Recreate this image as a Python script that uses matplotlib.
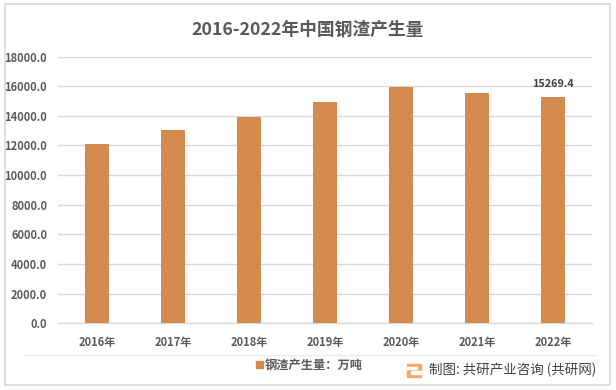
import matplotlib
matplotlib.use('Agg')
import matplotlib.pyplot as plt
from matplotlib.patches import Rectangle

plt.rcParams['font.family'] = ['Noto Sans CJK SC', 'DejaVu Sans']

years = ['2016年', '2017年', '2018年', '2019年', '2020年', '2021年', '2022年']
output = [12087, 13030, 13906, 14918, 15930, 15526, 15269.4]
y_ticks = [0, 2000, 4000, 6000, 8000, 10000, 12000, 14000, 16000, 18000]

W, H = 616, 390
fig = plt.figure(figsize=(W / 100, H / 100), dpi=100, facecolor='white')
ax = fig.add_axes([58.3 / W, 1 - 323.3 / H, 533.5 / W, 266.8 / H])

grey = '#595959'
bar_color = '#D28B4D'

ax.bar(range(len(years)), output, width=0.316, color=bar_color, zorder=3)
ax.set_xlim(-0.509, 6.51)
ax.set_ylim(0, 18000)
ax.set_xticks(range(len(years)))
ax.set_xticklabels(years, fontsize=8, fontweight='bold', color=grey)
ax.set_yticks(y_ticks)
ax.set_yticklabels([f'{v:.1f}' for v in y_ticks], fontsize=8, fontweight='bold', color=grey,
                   va='center_baseline')
ax.tick_params(length=0)
ax.tick_params(axis='x', pad=9)
ax.tick_params(axis='y', pad=8)
ax.grid(axis='y', color='#D9D9D9', linewidth=1, zorder=0)
for s in ['top', 'right', 'left']:
    ax.spines[s].set_visible(False)
ax.spines['bottom'].set_color('#D9D9D9')
ax.spines['bottom'].set_linewidth(1)

# label only on the last bar
ax.text(6, output[-1] + 560, f'{output[-1]:.1f}', ha='center', va='bottom',
        fontsize=7.8, fontweight='bold', color='#404040')

fig.text(307.5 / W, 1 - 30 / H, '2016-2022年中国钢渣产生量', ha='center', va='center',
         fontsize=12.8, fontweight='bold', color=grey)

# outer frame and the line above the legend
fig.add_artist(Rectangle((4.5 / W, 1 - 384.5 / H), 605.5 / W, 381 / H, transform=fig.transFigure,
                         fill=False, edgecolor='#D9D9D9', linewidth=1.2))
fig.add_artist(plt.Line2D([24 / W, 597 / W], [1 - 355 / H] * 2, color='#EDEDED', linewidth=1))

# legend
fig.add_artist(Rectangle((256 / W, 1 - 368 / H), 7 / W, 7 / H, transform=fig.transFigure,
                         color=bar_color))
fig.text(265 / W, 1 - 365 / H, '钢渣产生量：万吨', ha='left', va='center',
         fontsize=8.8, fontweight='bold', color=grey)

# logo
fig.add_artist(Rectangle((407 / W, 1 - 377 / H), 14 / W, 13 / H, transform=fig.transFigure,
                         color='#F6A868'))
fig.add_artist(Rectangle((411 / W, 1 - 374 / H), 10 / W, 3 / H, transform=fig.transFigure,
                         color='white'))
fig.add_artist(Rectangle((407 / W, 1 - 369 / H), 10 / W, 2 / H, transform=fig.transFigure,
                         color='white'))
fig.text(429 / W, 1 - 370 / H, '制图: 共研产业咨询 (共研网)', ha='left', va='center',
         fontsize=9.7, color='#404040')

fig.savefig('out.png', dpi=100)
